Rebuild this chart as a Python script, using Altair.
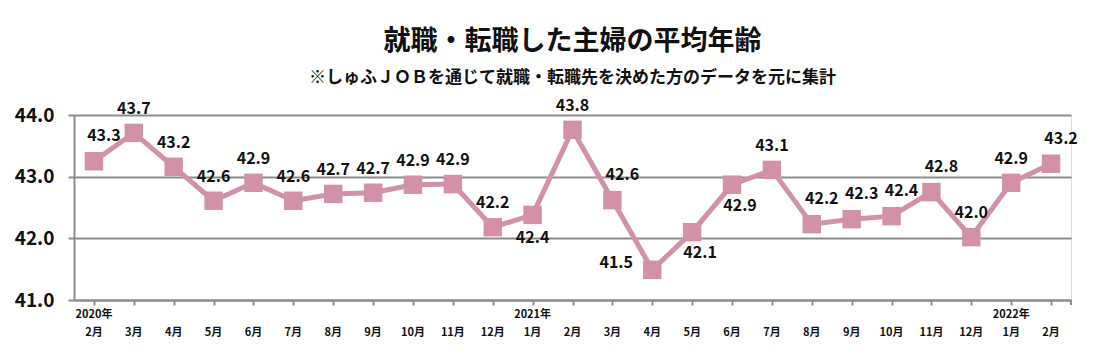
import altair as alt
import pandas as pd

# ---- data ----
months = ["2月", "3月", "4月", "5月", "6月", "7月", "8月", "9月", "10月", "11月", "12月",
          "1月", "2月", "3月", "4月", "5月", "6月", "7月", "8月", "9月", "10月", "11月", "12月",
          "1月", "2月"]
years = ["2020年", "", "", "", "", "", "", "", "", "", "",
         "2021年", "", "", "", "", "", "", "", "", "", "", "",
         "2022年", ""]
values = [43.25, 43.71, 43.16, 42.61, 42.90, 42.61, 42.72, 42.74, 42.87, 42.88, 42.18,
          42.38, 43.76, 42.62, 41.49, 42.10, 42.87, 43.11, 42.23, 42.31, 42.36, 42.75, 42.02,
          42.90, 43.21]
labels = ["43.3", "43.7", "43.2", "42.6", "42.9", "42.6", "42.7", "42.7", "42.9", "42.9", "42.2",
          "42.4", "43.8", "42.6", "41.5", "42.1", "42.9", "43.1", "42.2", "42.3", "42.4", "42.8", "42.0",
          "42.9", "43.2"]
placement = ["above_right", "above", "above", "above", "above", "above", "above", "above", "above", "above", "above",
             "below", "above", "above_right", "left", "below_right", "below_right", "above", "above_right",
             "above_right", "above_right", "above_right", "above", "above", "above_right"]

keys = [f"{i:02d}" for i in range(len(values))]
df = pd.DataFrame({"key": keys, "month": months, "year": years, "value": values,
                   "label": labels, "place": placement})

W, H = 997, 185
PINK = "#D291A8"
GRAY = "#8C8C8C"
FONT = "Noto Sans CJK JP"

x = alt.X("key:N", sort=keys, axis=alt.Axis(labels=False, title=None, bandPosition=0,
                                            ticks=True, tickSize=5, tickColor=GRAY, tickWidth=2,
                                            domainColor=GRAY, domainWidth=2, grid=False),
          scale=alt.Scale(paddingInner=0, paddingOuter=0))
y = alt.Y("value:Q", scale=alt.Scale(domain=[41, 44], nice=False, zero=False),
          axis=alt.Axis(values=[41, 42, 43, 44], format=".1f", title=None,
                        labelFont=FONT, labelFontSize=19, labelFontWeight="bold", labelColor="#111",
                        labelPadding=14, tickSize=6, tickColor=GRAY, tickWidth=2,
                        domainColor=GRAY, domainWidth=2, gridColor=GRAY, gridWidth=2))

base = alt.Chart(df)

line = base.mark_line(color=PINK, strokeWidth=5).encode(x=x, y=y)
pts = base.mark_square(color=PINK, size=340, opacity=1).encode(x=alt.X("key:N", sort=keys), y="value:Q")

offsets = {
    "above": (0, -24),
    "above_right": (10, -25),
    "below": (0, 23),
    "below_right": (8, 21),
    "left": (-36, -7),
}
label_layers = []
for p, (dx, dy) in offsets.items():
    label_layers.append(
        base.transform_filter(alt.datum.place == p)
        .mark_text(font=FONT, fontSize=16, fontWeight="bold", color="#111", dx=dx, dy=dy,
                   baseline="middle", align="center")
        .encode(x=alt.X("key:N", sort=keys), y="value:Q", text="label:N")
    )

month_text = base.mark_text(font=FONT, fontSize=11, fontWeight="bold", color="#111",
                            baseline="middle").encode(
    x=alt.X("key:N", sort=keys), y=alt.value(H + 33), text="month:N")
year_text = base.mark_text(font=FONT, fontSize=11, fontWeight="bold", color="#111",
                           baseline="middle").encode(
    x=alt.X("key:N", sort=keys), y=alt.value(H + 15), text="year:N")
end_tick = base.mark_rule(color=GRAY, strokeWidth=2).encode(
    x=alt.value(W), y=alt.value(H), y2=alt.value(H + 5))

chart = alt.layer(line, pts, *label_layers, month_text, year_text, end_tick).properties(
    width=W, height=H,
    title=alt.TitleParams(
        text="就職・転職した主婦の平均年齢",
        subtitle="※しゅふＪＯＢを通じて就職・転職先を決めた方のデータを元に集計",
        font=FONT, fontSize=27, fontWeight="bold", color="#111",
        subtitleFont=FONT, subtitleFontSize=17, subtitleFontWeight="bold", subtitleColor="#111",
        subtitlePadding=14, anchor="middle", offset=11,
    ),
    autosize=alt.AutoSizeParams(type="none"),
    padding={"left": 66, "top": 107, "right": 12, "bottom": 48},
).configure_view(stroke=None).configure(background="white")

chart.save("out.html", embed_options={"renderer": "svg", "actions": False})
